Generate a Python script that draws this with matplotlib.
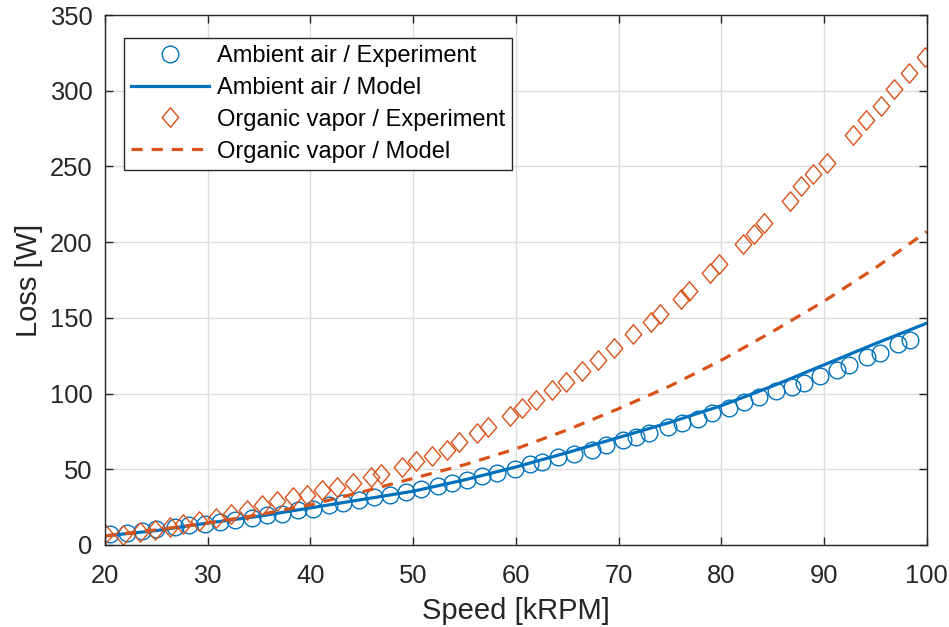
import matplotlib
matplotlib.use("Agg")
import matplotlib.pyplot as plt
from matplotlib.path import Path

# measured points, ambient air
air_speed = [20.5, 22.1, 23.6, 25.0, 26.8, 28.2, 29.7, 31.2, 32.7, 34.3,
             35.8, 37.2, 38.8, 40.3, 41.8, 43.2, 44.7, 46.2, 47.7, 49.3,
             50.8, 52.4, 53.8, 55.2, 56.7, 58.2, 59.9, 61.4, 62.5, 64.1,
             65.7, 67.4, 68.8, 70.4, 71.7, 73.0, 74.8, 76.2, 77.7, 79.1,
             80.7, 82.2, 83.7, 85.3, 86.9, 88.0, 89.6, 91.3, 92.4, 94.2,
             95.4, 97.2, 98.4]
air_loss = [7.5, 8.0, 9.3, 10.4, 11.9, 13.0, 14.1, 15.2, 16.8, 18.1,
            19.6, 20.7, 22.9, 24.0, 26.2, 27.7, 29.5, 31.7, 32.8, 35.0,
            36.8, 38.8, 41.2, 43.2, 45.4, 47.6, 50.2, 53.6, 55.0, 57.8,
            60.4, 63.0, 65.9, 69.2, 71.3, 74.1, 77.9, 80.4, 83.5, 87.0,
            90.3, 94.5, 97.8, 101.5, 104.6, 107.0, 111.4, 115.4, 119.0, 124.0,
            126.7, 132.5, 135.6]

# measured points, organic vapor
vap_speed = [20.0, 21.8, 23.4, 24.9, 26.3, 27.6, 29.2, 30.8, 32.3, 33.8,
             35.3, 36.7, 38.3, 39.7, 41.1, 42.6, 44.1, 45.9, 46.9, 48.9,
             50.3, 51.8, 53.3, 54.5, 56.2, 57.3, 59.4, 60.6, 62.0, 63.5,
             64.9, 66.4, 68.0, 69.6, 71.4, 73.2, 74.0, 76.1, 76.9, 78.9,
             79.8, 82.1, 83.2, 84.2, 86.7, 87.8, 88.9, 90.3, 92.8, 94.1,
             95.5, 96.8, 98.3, 99.8]
vap_loss = [7.5, 6.4, 8.6, 9.7, 11.9, 13.7, 15.7, 17.8, 20.7, 22.9,
            26.2, 29.0, 31.7, 33.0, 36.0, 38.0, 41.0, 44.9, 46.6, 51.3,
            55.4, 58.8, 63.0, 68.0, 74.0, 78.0, 85.5, 90.5, 96.0, 102.2,
            107.9, 114.7, 122.3, 130.0, 139.1, 147.6, 152.8, 162.7, 167.8, 179.7,
            185.9, 199.1, 205.7, 212.7, 227.5, 237.1, 244.8, 252.6, 270.6, 280.5,
            290.0, 301.0, 311.8, 322.3]

# model curves
model_speed = [20, 25, 30, 35, 40, 45, 50, 55, 60, 65, 70, 75, 80, 85, 90, 95, 100]
air_model = [6.0, 9.5, 14.5, 19.0, 24.5, 30.0, 35.5, 43.0, 51.5, 61.0,
             71.0, 81.0, 92.0, 105.0, 119.0, 133.0, 146.5]
vap_model = [6.0, 10.0, 14.5, 20.0, 26.5, 35.0, 44.0, 53.0, 63.5, 76.0,
             90.0, 105.0, 122.0, 141.0, 161.0, 183.0, 207.0]

BLUE = "#0072BD"
ORANGE = "#D95319"
TXT = "#262626"

plt.rcParams["font.family"] = ["Liberation Sans", "DejaVu Sans"]

# MATLAB style diamond, slightly narrower than tall
diamond = Path([(0, 1), (0.85, 0), (0, -1), (-0.85, 0), (0, 1)],
               [Path.MOVETO, Path.LINETO, Path.LINETO, Path.LINETO, Path.CLOSEPOLY])

fig = plt.figure(figsize=(9.49, 6.27), dpi=100)
ax = fig.add_axes([0.1106, 0.1308, 0.866, 0.8452])

ax.plot(air_speed, air_loss, linestyle="none", marker="o", markersize=12,
        markerfacecolor="none", markeredgecolor=BLUE, markeredgewidth=1.0,
        label="Ambient air / Experiment")
ax.plot(model_speed, air_model, color=BLUE, linewidth=2.3,
        label="Ambient air / Model")
ax.plot(vap_speed, vap_loss, linestyle="none", marker=diamond, markersize=14,
        markerfacecolor="none", markeredgecolor=ORANGE, markeredgewidth=1.0,
        label="Organic vapor / Experiment")
ax.plot(model_speed, vap_model, color=ORANGE, linewidth=2.3, dashes=(3.5, 2.8),
        label="Organic vapor / Model")

ax.set_xlim(20, 100)
ax.set_ylim(0, 350)
ax.set_xticks(range(20, 101, 10))
ax.set_yticks(range(0, 351, 50))
ax.grid(True, color="#dcdcdc", linewidth=1.0)
ax.set_axisbelow(True)

for s in ax.spines.values():
    s.set_color(TXT)
    s.set_linewidth(1.0)
ax.tick_params(direction="in", length=6, width=1.0, colors=TXT,
               labelsize=18.4, top=True, right=True)
ax.tick_params(axis="x", pad=14)
ax.tick_params(axis="y", pad=9)

ax.set_xlabel("Speed [kRPM]", fontsize=21, color=TXT, labelpad=6)
ax.set_ylabel("Loss [W]", fontsize=21, color=TXT, labelpad=5)

leg = ax.legend(loc="upper left", bbox_to_anchor=(0.023, 0.957), borderaxespad=0,
                fontsize=17, fancybox=False, framealpha=1, edgecolor=TXT,
                handlelength=3.3, handletextpad=0.35, labelspacing=0.42,
                borderpad=0.3)
leg.get_frame().set_linewidth(1.0)

fig.savefig("out.png", dpi=100)
